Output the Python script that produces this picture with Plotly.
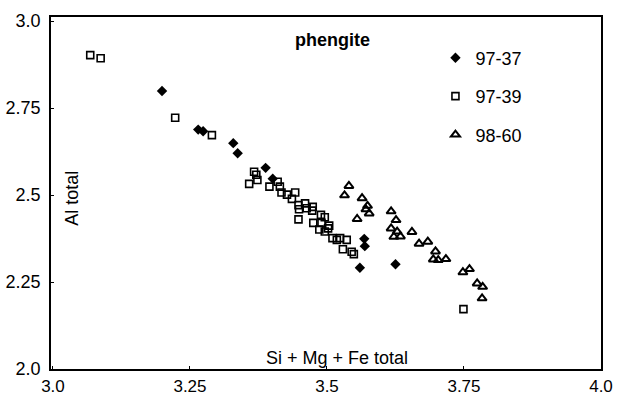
import plotly.graph_objects as go

# 97-37 (filled diamonds)
x_9737 = [3.199, 3.265, 3.274, 3.329, 3.337, 3.388, 3.401, 3.568, 3.569, 3.560, 3.625]
y_9737 = [2.799, 2.688, 2.683, 2.649, 2.620, 2.578, 2.547, 2.374, 2.353, 2.291, 2.301]

# 97-39 (open squares)
x_9739 = [3.068, 3.087, 3.223, 3.290, 3.367, 3.371, 3.373, 3.358, 3.395, 3.410,
          3.414, 3.417, 3.427, 3.442, 3.436, 3.448, 3.449, 3.460, 3.463, 3.474,
          3.473, 3.448, 3.489, 3.496, 3.475, 3.490, 3.504, 3.486, 3.496, 3.502,
          3.510, 3.518, 3.524, 3.536, 3.529, 3.545, 3.549, 3.749]
y_9739 = [2.902, 2.893, 2.722, 2.672, 2.567, 2.558, 2.543, 2.532, 2.524, 2.538,
          2.524, 2.507, 2.501, 2.507, 2.489, 2.471, 2.459, 2.476, 2.462, 2.466,
          2.455, 2.430, 2.443, 2.436, 2.420, 2.420, 2.412, 2.401, 2.395, 2.404,
          2.376, 2.371, 2.376, 2.371, 2.344, 2.337, 2.330, 2.172]

# 98-60 (open triangles)
x_9860 = [3.540, 3.532, 3.564, 3.574, 3.571, 3.577, 3.555, 3.617, 3.626, 3.617,
          3.628, 3.622, 3.634, 3.655, 3.668, 3.684, 3.698, 3.694, 3.703, 3.717,
          3.748, 3.760, 3.774, 3.784, 3.783]
y_9860 = [2.526, 2.499, 2.491, 2.469, 2.459, 2.447, 2.431, 2.453, 2.428, 2.404,
          2.395, 2.380, 2.381, 2.394, 2.360, 2.366, 2.338, 2.315, 2.313, 2.316,
          2.278, 2.287, 2.246, 2.236, 2.203]

x_ticks = [3.0, 3.25, 3.5, 3.75, 4.0]
x_ticktext = ["3.0", "3.25", "3.5", "3.75", "4.0"]
y_ticks = [2.0, 2.25, 2.5, 2.75, 3.0]
y_ticktext = ["2.0", "2.25", "2.5", "2.75", "3.0"]

FONT = "Liberation Sans, Arial, sans-serif"
FS = 18

fig = go.Figure()
fig.add_trace(go.Scatter(
    x=x_9737, y=y_9737, mode="markers", name="97-37", legendgroup="a",
    marker=dict(symbol="diamond", size=8, color="black", line=dict(width=0))))
fig.add_trace(go.Scatter(
    x=x_9739, y=y_9739, mode="markers", name="97-39", legendgroup="b",
    marker=dict(symbol="square-open", size=7, color="black", line=dict(width=1.6, color="black"))))
fig.add_trace(go.Scatter(
    x=x_9860, y=y_9860, mode="markers", name="98-60", legendgroup="c",
    marker=dict(symbol="triangle-up-open", size=8, color="black", line=dict(width=2, color="black"))))

axis_common = dict(
    showgrid=False, zeroline=False, showline=True, mirror=True, automargin=False,
    linecolor="black", linewidth=1.5, ticks="inside", ticklen=3, tickcolor="black",
)

fig.update_layout(
    width=618, height=396,
    margin=dict(l=51, r=17, t=17, b=27),
    paper_bgcolor="white", plot_bgcolor="white",
    font=dict(family=FONT, size=FS, color="black"),
    showlegend=True,
    legend=dict(x=0.699, y=0.936, xanchor="left", yanchor="top",
                bgcolor="rgba(0,0,0,0)", font=dict(family=FONT, size=FS, color="black"),
                tracegroupgap=12, valign="top", itemwidth=30),
    xaxis=dict(range=[2.9964, 4.0], tickvals=x_ticks, ticktext=x_ticktext,
               ticklabelstandoff=1, tickfont=dict(family=FONT, size=17, color="black"),
               **axis_common),
    yaxis=dict(range=[2.0, 3.0115], tickvals=y_ticks, ticktext=y_ticktext,
               ticklabelstandoff=5, tickfont=dict(family=FONT, size=FS, color="black"),
               **axis_common),
    annotations=[
        dict(text="<b>phengite</b>", x=0.511, y=0.935, xref="paper", yref="paper",
             xanchor="center", yanchor="middle",
             showarrow=False, font=dict(family=FONT, size=FS, color="black")),
        dict(text="Si + Mg + Fe total", x=0.52, y=0.031, xref="paper", yref="paper",
             xanchor="center", yanchor="middle",
             showarrow=False, font=dict(family=FONT, size=FS, color="black")),
        dict(text="Al total", x=0.038, y=0.486, xref="paper", yref="paper",
             xanchor="center", yanchor="middle",
             textangle=-90, showarrow=False, font=dict(family=FONT, size=FS, color="black")),
    ],
)

fig.write_html("out.html")
